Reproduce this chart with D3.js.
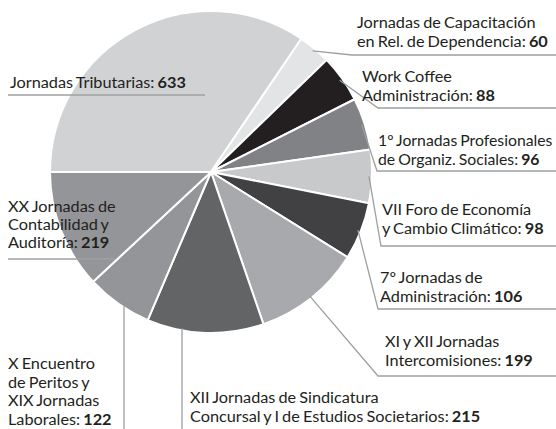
<!DOCTYPE html>
<html>
<head>
<meta charset="utf-8">
<script src="https://cdn.jsdelivr.net/npm/d3@7"></script>
<style>
  html, body { margin: 0; padding: 0; background: #fff; }
  svg { display: block; }
  text { font-family: Lato, Roboto, sans-serif; fill: #231f20; word-spacing: -1px; }
</style>
</head>
<body>
<svg id="chart" width="556" height="429"></svg>
<script>
//
// Data
//
const names = [
  "Jornadas Tributarias",
  "Jornadas de Capacitación en Rel. de Dependencia",
  "Work Coffee Administración",
  "1º Jornadas Profesionales de Organiz. Sociales",
  "VII Foro de Economía y Cambio Climático",
  "7º Jornadas de Administración",
  "XI y XII Jornadas Intercomisiones",
  "XII Jornadas de Sindicatura Concursal y I de Estudios Societarios",
  "X Encuentro de Peritos y XIX Jornadas Laborales",
  "XX Jornadas de Contabilidad y Auditoría"
];
const values = [633, 60, 88, 96, 98, 106, 199, 215, 122, 219];
// how each label breaks into lines (last line gets ": value")
const labelLines = [
  ["Jornadas Tributarias"],
  ["Jornadas de Capacitación", "en Rel. de Dependencia"],
  ["Work Coffee", "Administración"],
  ["1º Jornadas Profesionales", "de Organiz. Sociales"],
  ["VII Foro de Economía", "y Cambio Climático"],
  ["7º Jornadas de", "Administración"],
  ["XI y XII Jornadas", "Intercomisiones"],
  ["XII Jornadas de Sindicatura", "Concursal y I de Estudios Societarios"],
  ["X Encuentro", "de Peritos y", "XIX Jornadas", "Laborales"],
  ["XX Jornadas de", "Contabilidad y", "Auditoría"]
];
const colors = ["#d1d2d4", "#e3e4e5", "#231f20", "#808285", "#c8c9cb",
                "#414143", "#a7a9ac", "#636466", "#939598", "#939598"];

//
// Layout
//
const width = 556, height = 429;
const cx = 211, cy = 172, radius = 161;
const lineH = 19;
// label placement: text x, first baseline, leader type
// "right": arc -> elbow -> right edge, "down": vertical to bottom, "under": underline
const layout = [
  { x: 10,  y: 88,  kind: "under", x0: 8, x1: 205, ly: 95 },
  { x: 357, y: 28,  kind: "right", ex: 352, ly: 55 },
  { x: 362, y: 82,  kind: "right", ex: 378, ly: 108 },
  { x: 378, y: 146, kind: "right", ex: 377, ly: 171 },
  { x: 382, y: 215, kind: "right", ex: 381, ly: 246 },
  { x: 380, y: 283, kind: "right", ex: 378, ly: 309 },
  { x: 385, y: 347, kind: "right", ex: 378, ly: 376 },
  { x: 190, y: 403, kind: "down",  lx: 182 },
  { x: 8,   y: 369, kind: "down",  lx: 124, lh: 18.7 },
  { x: 8,   y: 212, kind: "under", x0: 8, x1: 115, ly: 259, lh: 18 }
];

var svg = d3.select("#chart");

var pie = d3.pie()
  .sort(null)
  .startAngle(-Math.PI / 2)
  .endAngle(Math.PI * 1.5)
  .value(function(d) { return d; });

var arcs = pie(values);

var arc = d3.arc().innerRadius(0).outerRadius(radius);
var edgeArc = d3.arc().innerRadius(radius - 3).outerRadius(radius - 3);

var g = svg.append("g").attr("transform", "translate(" + cx + "," + cy + ")");

g.selectAll("path.slice")
  .data(arcs)
  .enter()
  .append("path")
  .attr("class", "slice")
  .attr("d", arc)
  .attr("fill", function(d, i) { return colors[i]; })
  .attr("stroke", "#fff")
  .attr("stroke-width", 2)
  .attr("stroke-linejoin", "round");

//
// Leader lines
//
var leaders = svg.append("g")
  .attr("fill", "none")
  .attr("stroke", "#9d9fa2")
  .attr("stroke-width", 1.3);

arcs.forEach(function(a, i) {
  var L = layout[i];
  var c = edgeArc.centroid(a);
  var sx = c[0] + cx, sy = c[1] + cy;
  var pts;
  if (L.kind === "right") {
    pts = [[sx, sy], [L.ex, L.ly], [width, L.ly]];
  } else if (L.kind === "down") {
    // drop straight down from where x = lx meets the circle
    var dy = Math.sqrt(radius * radius - (L.lx - cx) * (L.lx - cx));
    pts = [[L.lx, cy + dy - 2], [L.lx, height]];
  } else {
    pts = [[L.x0, L.ly], [L.x1, L.ly]];
  }
  leaders.append("path").attr("d", d3.line()(pts));
});

//
// Labels
//
var fontSize = 15.5;
var labels = svg.append("g").attr("font-size", fontSize);

labelLines.forEach(function(lines, i) {
  var L = layout[i];
  var lh = L.lh || lineH;
  var t = labels.append("text").attr("class", "lbl").attr("data-x", L.x).attr("data-y", L.y);
  lines.forEach(function(s, j) {
    var ts = t.append("tspan").attr("x", 0).attr("dy", j === 0 ? 0 : lh);
    if (j === lines.length - 1) {
      ts.text(s + ": ");
      t.append("tspan").attr("font-weight", "bold").text(values[i]);
    } else {
      ts.text(s);
    }
  });
});

// fit the fallback font so the first label has the same width as in the original
var ref = labels.select("text.lbl").node();
var sc = Math.min(1.05, 177 / ref.getComputedTextLength());
labels.selectAll("text.lbl").attr("transform", function() {
  var el = d3.select(this);
  var x = +el.attr("data-x");
  var w = this.getBBox().width;
  // keep labels on the right inside the page
  var s = Math.min(sc, (width - 3 - x) / w);
  return "translate(" + x + "," + el.attr("data-y") + ") scale(" + s + ",1)";
});
</script>
</body>
</html>
